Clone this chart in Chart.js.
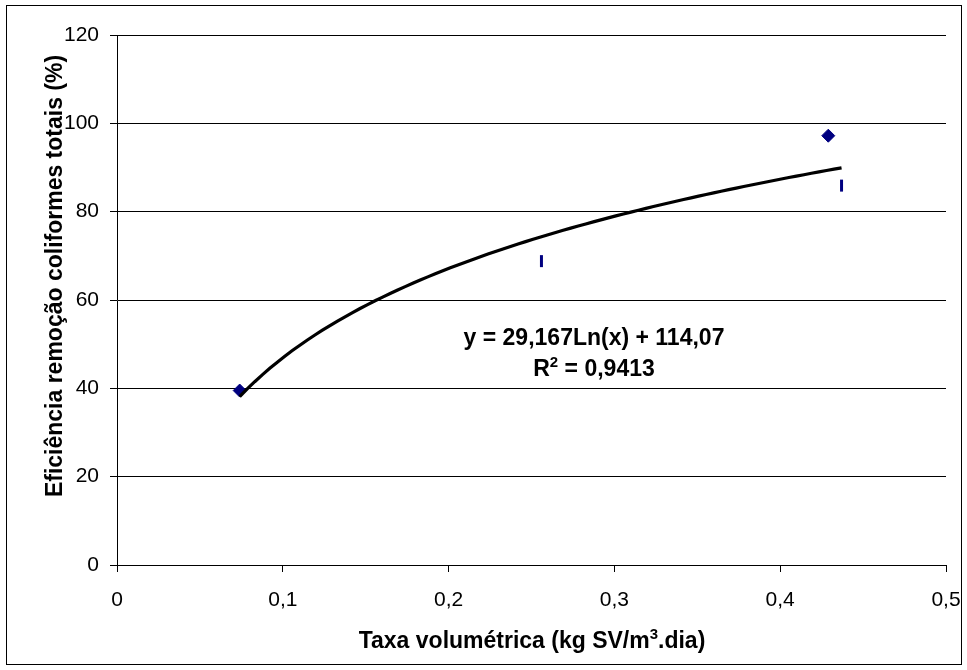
<!DOCTYPE html>
<html>
<head>
<meta charset="utf-8">
<script src="https://cdn.jsdelivr.net/npm/chart.js@4"></script>
<style>
  body { margin: 0; background: #fff; }
  canvas { display: block; }
</style>
</head>
<body>
<canvas id="grafico" width="967" height="670"></canvas>
<script>
const fonte = "'Liberation Sans', Arial, sans-serif";

// taxa volumetrica (kg SV/m3.dia) x eficiencia de remocao de coliformes totais (%)
const taxa = [0.074, 0.256, 0.429, 0.437];
const eficiencia = [39.5, 68.8, 97.2, 85.9];
const estiloPonto = ["rectRot", "line", "rectRot", "line"];

const xTicks = ["0", "0,1", "0,2", "0,3", "0,4", "0,5"];
const yTicks = ["0", "20", "40", "60", "80", "100", "120"];

// linha de tendencia logaritmica y = a*ln(x) + b
const coefA = 29.167;
const coefB = 114.07;
const r2 = 0.9413;
const tendXmin = 0.074;
const tendXmax = 0.437;

const tendencia = [];
for (let i = 0; i <= 80; i++) {
  const x = tendXmin + (tendXmax - tendXmin) * i / 80;
  tendencia.push({ x: x, y: coefA * Math.log(x) + coefB });
}

const pontos = taxa.map((x, i) => ({ x: x, y: eficiencia[i] }));
const virgula = (v) => String(v).replace(".", ",");

// escreve texto com trechos sobrescritos, centrado em cx
function textoRico(ctx, partes, cx, y, tam) {
  const normal = "bold " + tam + "px " + fonte;
  const sup = "bold " + Math.round(tam * 0.66) + "px " + fonte;
  let largura = 0;
  partes.forEach(p => {
    ctx.font = p.sup ? sup : normal;
    largura += ctx.measureText(p.t).width;
  });
  let x = cx - largura / 2;
  ctx.textAlign = "left";
  ctx.textBaseline = "alphabetic";
  partes.forEach(p => {
    ctx.font = p.sup ? sup : normal;
    ctx.fillText(p.t, x, p.sup ? y - tam * 0.4 : y);
    x += ctx.measureText(p.t).width;
  });
}

const textos = {
  id: "textos",
  afterDraw(chart) {
    const ctx = chart.ctx;
    ctx.save();
    ctx.fillStyle = "#000";

    // moldura externa
    ctx.strokeStyle = "#000";
    ctx.lineWidth = 1;
    ctx.strokeRect(6.5, 5.5, 955, 659);

    // titulo do eixo x
    textoRico(ctx, [{ t: "Taxa volumétrica (kg SV/m" }, { t: "3", sup: true }, { t: ".dia)" }], 532, 648, 23);

    // titulo do eixo y
    ctx.save();
    ctx.translate(61.5, 276);
    ctx.rotate(-Math.PI / 2);
    textoRico(ctx, [{ t: "Eficiência remoção coliformes totais (%)" }], 0, 0, 23);
    ctx.restore();

    // equacao da tendencia
    textoRico(ctx, [{ t: "y = " + virgula(coefA) + "Ln(x) + " + virgula(coefB) }], 594, 345, 23);
    textoRico(ctx, [{ t: "R" }, { t: "2", sup: true }, { t: " = " + virgula(r2) }], 594, 376, 23);
    ctx.restore();
  }
};

const ctx = document.getElementById("grafico").getContext("2d");
const grafico = new Chart(ctx, {
  type: "scatter",
  data: {
    datasets: [
      {
        label: "Tendência",
        data: tendencia,
        showLine: true,
        borderColor: "#000",
        borderWidth: 3.2,
        pointRadius: 0,
        tension: 0,
        order: 0,
      },
      {
        label: "Eficiência",
        data: pontos,
        pointStyle: estiloPonto,
        rotation: [0, 90, 0, 90],
        pointRadius: [6.5, 6, 6.5, 6],
        borderWidth: [1, 3, 1, 3],
        backgroundColor: "#000080",
        borderColor: "#000080",
        order: 1,
      },
    ],
  },
  options: {
    responsive: false,
    animation: false,
    layout: { padding: { top: 35, right: 21, left: 0, bottom: 0 } },
    plugins: {
      legend: { display: false },
      tooltip: { enabled: false },
    },
    scales: {
      x: {
        type: "linear",
        min: 0,
        max: 0.5,
        afterFit: (s) => { s.height = 105; s.paddingLeft = 0; s.paddingRight = 0; },
        afterBuildTicks: (s) => { s.ticks = xTicks.map((t, i) => ({ value: i * 0.1 })); },
        ticks: {
          callback: (v, i) => xTicks[i],
          color: "#000",
          font: { family: fonte, size: 21 },
          padding: 16,
          maxRotation: 0,
        },
        grid: { drawOnChartArea: false, drawTicks: true, tickLength: 7, color: "#000" },
        border: { display: true, color: "#000" },
      },
      y: {
        min: 0,
        max: 120,
        afterFit: (s) => { s.width = 117; s.paddingTop = 0; s.paddingBottom = 0; },
        afterBuildTicks: (s) => { s.ticks = yTicks.map((t, i) => ({ value: i * 20 })); },
        ticks: {
          callback: (v, i) => yTicks[i],
          color: "#000",
          font: { family: fonte, size: 21 },
          padding: 11,
        },
        grid: { color: "#000", drawTicks: true, tickLength: 7 },
        border: { display: true, color: "#000" },
      },
    },
  },
  plugins: [textos],
});
</script>
</body>
</html>
